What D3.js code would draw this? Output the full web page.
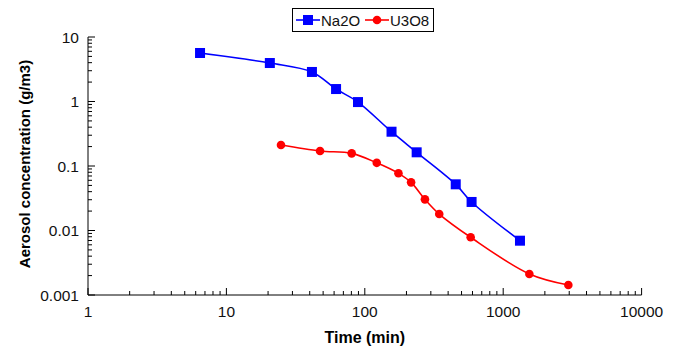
<!DOCTYPE html>
<html>
<head>
<meta charset="utf-8">
<script src="https://cdn.jsdelivr.net/npm/d3@7"></script>
<style>
  html, body { margin: 0; padding: 0; background: #fff; }
  svg { display: block; font-family: Arial, "Liberation Sans", sans-serif; }
</style>
</head>
<body>
<svg id="chart" width="677" height="352"></svg>
<script>
// Aerosol decay measurements (time in minutes, concentration in g/m3)
const na2oTime = [6.45, 20.6, 41.5, 62, 89.3, 156, 237, 454, 591, 1322];
const na2oConc = [5.65, 3.95, 2.87, 1.56, 0.98, 0.34, 0.163, 0.052, 0.0277, 0.00695];

const u3o8Time = [24.8, 47.5, 80.4, 122, 175, 216, 272, 345, 582, 1545, 2956];
const u3o8Conc = [0.212, 0.171, 0.157, 0.112, 0.077, 0.0558, 0.0304, 0.018, 0.00785, 0.00212, 0.00143];

const xTickValues = [1, 10, 100, 1000, 10000];
const xTickLabels = ["1", "10", "100", "1000", "10000"];
const yTickValues = [0.001, 0.01, 0.1, 1, 10];
const yTickLabels = ["0.001", "0.01", "0.1", "1", "10"];

const seriesNames = ["Na2O", "U3O8"];
const seriesColors = ["#0000ff", "#ff0000"];

const svg = d3.select("#chart");
const plotLeft = 88, plotRight = 641.6, plotTop = 37, plotBottom = 295;

const x = d3.scaleLog().domain([1, 10000]).range([plotLeft, plotRight]);
const y = d3.scaleLog().domain([0.001, 10]).range([plotBottom, plotTop]);

// minor tick values for each decade
function minorTicks(lo, hi) {
  const out = [];
  for (let d = lo; d < hi * 0.999; d *= 10) {
    for (let k = 2; k <= 9; k++) out.push(d * k);
  }
  return out;
}

const axisColor = "#000";
const labelSize = 15.5;

// X axis: ticks point inward (upward)
const gx = svg.append("g").attr("transform", `translate(0,${plotBottom})`);
gx.append("line").attr("x1", plotLeft).attr("x2", plotRight).attr("stroke", axisColor).attr("stroke-width", 1);
gx.selectAll(".minor").data(minorTicks(1, 10000)).enter().append("line")
  .attr("x1", d => x(d)).attr("x2", d => x(d)).attr("y1", 0).attr("y2", -4)
  .attr("stroke", axisColor).attr("stroke-width", 1);
gx.selectAll(".major").data(xTickValues).enter().append("line")
  .attr("x1", d => x(d)).attr("x2", d => x(d)).attr("y1", 0).attr("y2", -7)
  .attr("stroke", axisColor).attr("stroke-width", 1);
gx.selectAll(".lbl").data(xTickValues).enter().append("text")
  .attr("x", d => x(d)).attr("y", 22)
  .attr("text-anchor", "middle").attr("font-size", labelSize).attr("fill", "#111")
  .text((d, i) => xTickLabels[i]);

// Y axis: ticks point inward (rightward)
const gy = svg.append("g").attr("transform", `translate(${plotLeft},0)`);
gy.append("line").attr("y1", plotTop).attr("y2", plotBottom).attr("stroke", axisColor).attr("stroke-width", 1);
gy.selectAll(".minor").data(minorTicks(0.001, 10)).enter().append("line")
  .attr("y1", d => y(d)).attr("y2", d => y(d)).attr("x1", 0).attr("x2", 4)
  .attr("stroke", axisColor).attr("stroke-width", 1);
gy.selectAll(".major").data(yTickValues).enter().append("line")
  .attr("y1", d => y(d)).attr("y2", d => y(d)).attr("x1", 0).attr("x2", 7)
  .attr("stroke", axisColor).attr("stroke-width", 1);
gy.selectAll(".lbl").data(yTickValues).enter().append("text")
  .attr("x", -9).attr("y", d => y(d) + 5.5)
  .attr("text-anchor", "end").attr("font-size", labelSize).attr("fill", "#111")
  .text((d, i) => yTickLabels[i]);

// Axis titles
svg.append("text").attr("x", (plotLeft + plotRight) / 2).attr("y", 343)
  .attr("text-anchor", "middle").attr("font-size", 16).attr("font-weight", "bold")
  .text("Time (min)");
svg.append("text")
  .attr("transform", `translate(30,${(plotTop + plotBottom) / 2 - 2}) rotate(-90)`)
  .attr("text-anchor", "middle").attr("font-size", 15).attr("font-weight", "bold")
  .text("Aerosol concentration (g/m3)");

// Series
const series = [
  { name: seriesNames[0], color: seriesColors[0], t: na2oTime, c: na2oConc, shape: "square" },
  { name: seriesNames[1], color: seriesColors[1], t: u3o8Time, c: u3o8Conc, shape: "circle" }
];

const line = d3.line()
  .x(d => x(d[0])).y(d => y(d[1]))
  .curve(d3.curveCatmullRom.alpha(0.5));

series.forEach(s => {
  const pts = s.t.map((t, i) => [t, s.c[i]]);
  svg.append("path").datum(pts).attr("d", line)
    .attr("fill", "none").attr("stroke", s.color).attr("stroke-width", 1.6);
  if (s.shape === "square") {
    svg.selectAll(null).data(pts).enter().append("rect")
      .attr("x", d => x(d[0]) - 5).attr("y", d => y(d[1]) - 5)
      .attr("width", 10).attr("height", 10).attr("fill", s.color);
  } else {
    svg.selectAll(null).data(pts).enter().append("circle")
      .attr("cx", d => x(d[0])).attr("cy", d => y(d[1])).attr("r", 4.3)
      .attr("fill", s.color);
  }
});

// Legend
const lg = svg.append("g");
lg.append("rect").attr("x", 292.5).attr("y", 8.5).attr("width", 141).attr("height", 23)
  .attr("fill", "#fff").attr("stroke", "#000").attr("stroke-width", 1);
const legendX = [296, 365];
series.forEach((s, i) => {
  const lx = legendX[i], ly = 20;
  lg.append("line").attr("x1", lx).attr("x2", lx + 24).attr("y1", ly).attr("y2", ly)
    .attr("stroke", s.color).attr("stroke-width", 1.6);
  if (s.shape === "square") {
    lg.append("rect").attr("x", lx + 7).attr("y", ly - 5).attr("width", 10).attr("height", 10).attr("fill", s.color);
  } else {
    lg.append("circle").attr("cx", lx + 12).attr("cy", ly).attr("r", 4.3).attr("fill", s.color);
  }
  lg.append("text").attr("x", lx + 25).attr("y", ly + 5.5).attr("font-size", 15).attr("fill", "#111")
    .text(s.name);
});
</script>
</body>
</html>
